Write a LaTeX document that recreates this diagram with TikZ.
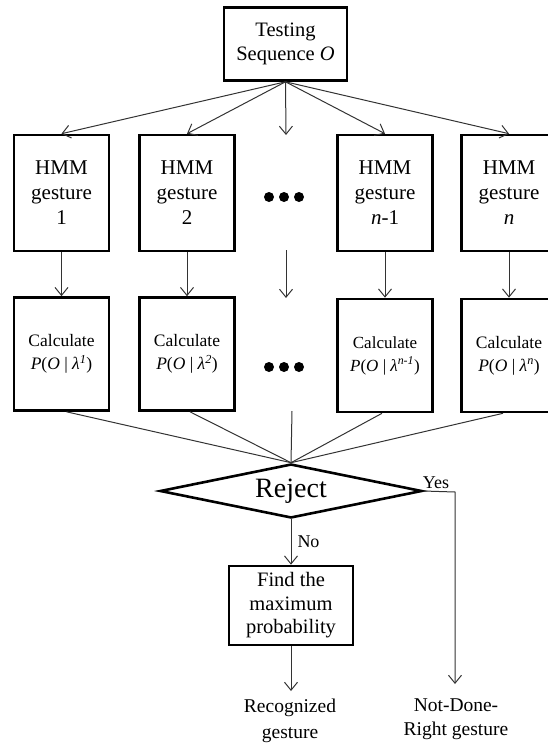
\documentclass[tikz,border=0pt]{standalone}
\usepackage{fontspec}
\setmainfont{Liberation Serif}
\usetikzlibrary{shapes.geometric,arrows.meta,calc}
\tikzset{
  box/.style={draw=black,line width=2.6pt,inner sep=0pt,align=center},
  hmmbox/.style={box,minimum width=95pt,minimum height=116pt,font=\fontsize{21}{25}\selectfont},
  calcbox/.style={box,minimum width=95pt,minimum height=113pt,font=\fontsize{17.5}{23}\selectfont},
  conn/.style={draw=black!80,line width=1pt},
  arr/.style={conn,-{Straight Barb[length=8pt,width=13pt]}},
  dot/.style={circle,fill=black,inner sep=0pt,minimum size=10pt},
  lbl/.style={align=center,inner sep=0pt,font=\fontsize{18}{25}\selectfont}
}
\newcommand{\lam}{\textit{λ}}
\begin{document}
\begin{tikzpicture}[x=1pt,y=-1pt]
\useasboundingbox (0,0) rectangle (548,744);
% top
\node[box,minimum width=123pt,minimum height=73pt,font=\fontsize{20.5}{24}\selectfont] (top) at (285.5,44) {Testing\\Sequence \textit{O}};
% HMM row
\node[hmmbox] (h1) at (61.5,193) {HMM\\gesture\\1};
\node[hmmbox] (h2) at (187,193) {HMM\\gesture\\2};
\node[hmmbox] (h3) at (385,193) {HMM\\gesture\\\textit{n}-1};
\node[hmmbox] (h4) at (509,193) {HMM\\gesture\\\textit{n}};
\node[dot] (da1) at (269,197) {};
\node[dot] (da2) at (284,197) {};
\node[dot] (da3) at (299,197) {};
% Calculate row
\node[calcbox] (c1) at (61.5,354) {Calculate\\\textit{P}(\textit{O} | \lam\textsuperscript{\textit{1}})};
\node[calcbox] (c2) at (187,354) {Calculate\\\textit{P}(\textit{O} | \lam\textsuperscript{\textit{2}})};
\node[calcbox,font=\fontsize{17}{23}\selectfont] (c3) at (385,355.5) {Calculate\\\textit{P}(\textit{O} | \lam\textsuperscript{\textit{n-1}})};
\node[calcbox] (c4) at (509,355.5) {Calculate\\\textit{P}(\textit{O} | \lam\textsuperscript{\textit{n}})};
\node[dot] (db1) at (269,367) {};
\node[dot] (db2) at (284,367) {};
\node[dot] (db3) at (299,367) {};
% diamond
\node[draw=black,line width=2.6pt,diamond,aspect=4.85,inner sep=0pt,minimum width=262pt,minimum height=54pt,font=\fontsize{28}{30}\selectfont] (rej) at (291,491) {Reject};
% find
\node[box,minimum width=124pt,minimum height=79pt,font=\fontsize{20.5}{23.5}\selectfont] (find) at (291,605.5) {Find the\\maximum\\probability};
% outputs
\node[lbl,font=\fontsize{19.5}{26}\selectfont] (rec) at (290,721) {Recognized\\gesture};
\node[lbl,font=\fontsize{19.5}{24}\selectfont] (ndr) at (456,719) {Not-Done-\\Right gesture};
% coordinates
\coordinate (m1) at (286,135);
\coordinate (m2a) at (286,250);
\coordinate (m2b) at (286,298);
\coordinate (m3) at (292,411);
\coordinate (yc) at (455,492);
\coordinate (ye) at (455,684);
\coordinate (re) at (291,691);
% arrows top -> HMM
\draw[arr] (top.south) -- (h1.north);
\draw[arr] (top.south) -- (h2.north);
\draw[arr] (top.south) -- (m1);
\draw[arr] (top.south) -- (h3.north);
\draw[arr] (top.south) -- (h4.north);
% HMM -> calc
\draw[arr] (h1.south) -- (c1.north);
\draw[arr] (h2.south) -- (c2.north);
\draw[arr] (m2a) -- (m2b);
\draw[arr] (h3.south) -- (c3.north);
\draw[arr] (h4.south) -- (c4.north);
% calc -> diamond
\draw[conn] ($(c1.south)+(5,0)$) -- (rej.north);
\draw[conn] ($(c2.south)+(3,0)$) -- (rej.north);
\draw[conn] (m3) -- (rej.north);
\draw[conn] ($(c3.south)+(-3,0)$) -- (rej.north);
\draw[conn] ($(c4.south)+(-6,0)$) -- (rej.north);
% decision
\draw[arr] (rej.south) -- node[right,lbl,xshift=6pt] (no) {No} (find.north);
\draw[arr] (rej.east) -- (yc) -- (ye);
\node[lbl,anchor=south] (yes) at (436,489) {Yes};
\draw[arr] (find.south) -- (re);
\end{tikzpicture}
\end{document}
